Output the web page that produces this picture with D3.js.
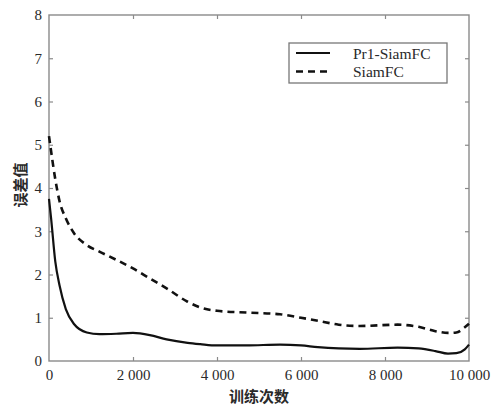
<!DOCTYPE html>
<html>
<head>
<meta charset="utf-8">
<script src="https://cdn.jsdelivr.net/npm/d3@7"></script>
<style>
  html, body { margin: 0; padding: 0; background: #fff; }
  svg { display: block; }
</style>
</head>
<body>
<svg id="chart" width="502" height="405"></svg>
<script>
// Training steps and error values of the two trackers
const steps = [0, 50, 150, 250, 400, 600, 900, 1200, 1600, 2000, 2400, 2800, 3300, 3600, 4000,
               4700, 5500, 6000, 6400, 6900, 7400, 8300, 8800, 9200, 9500, 9700, 9900, 10000];
const pr1SiamFC = [3.75, 3.3, 2.3, 1.75, 1.2, 0.85, 0.66, 0.62, 0.63, 0.65, 0.6, 0.5, 0.42, 0.39, 0.36,
                   0.36, 0.38, 0.36, 0.32, 0.29, 0.28, 0.31, 0.29, 0.23, 0.17, 0.18, 0.27, 0.38];
const siamFC = [5.2, 4.85, 4.2, 3.7, 3.3, 2.95, 2.68, 2.53, 2.34, 2.14, 1.91, 1.68, 1.37, 1.24, 1.16,
                1.12, 1.08, 1.0, 0.93, 0.84, 0.81, 0.84, 0.79, 0.69, 0.65, 0.66, 0.78, 0.86];
const xTicks = [0, 2000, 4000, 6000, 8000, 10000];
const yTicks = [0, 1, 2, 3, 4, 5, 6, 7, 8];
const seriesNames = ["Pr1-SiamFC", "SiamFC"];
const xTitle = "训练次数";
const yTitle = "误差值";

const svg = d3.select("#chart");
const plot = { left: 49, right: 469, top: 15, bottom: 361 };
const axisColor = "#8a8a8a";
const textColor = "#2a2a2a";
const serif = "'Liberation Serif', 'DejaVu Serif', serif";
const cjk = "'Noto Sans CJK SC', sans-serif";

const x = d3.scaleLinear().domain([0, 10000]).range([plot.left, plot.right]);
const y = d3.scaleLinear().domain([0, 8]).range([plot.bottom, plot.top]);

// thousands grouped with a space, e.g. "2 000"
const fmt = d => d === 0 ? "0" : d3.format(",")(d).replace(/,/g, " ");

function styleAxis(g, showLabels) {
  g.attr("font-family", serif).attr("font-size", 15);
  g.select(".domain").remove();
  g.selectAll(".tick line").attr("stroke", axisColor).attr("stroke-width", 1.2);
  g.selectAll(".tick text")
    .attr("fill", textColor)
    .attr("display", showLabels ? null : "none");
}

// bottom / left axes with labels, inward ticks
svg.append("g")
  .attr("transform", `translate(0,${plot.bottom})`)
  .call(d3.axisBottom(x).tickValues(xTicks).tickFormat(fmt).tickSizeInner(-4).tickSizeOuter(0).tickPadding(8))
  .call(g => styleAxis(g, true))
  .call(g => g.selectAll(".tick").filter(d => d === 0 || d === 10000).select("line").remove());

svg.append("g")
  .attr("transform", `translate(${plot.left},0)`)
  .call(d3.axisLeft(y).tickValues(yTicks).tickSizeInner(-4).tickSizeOuter(0).tickPadding(7))
  .call(g => styleAxis(g, true))
  .call(g => g.selectAll(".tick").filter(d => d === 0 || d === 8).select("line").remove());

// mirrored top / right ticks
svg.append("g")
  .attr("transform", `translate(0,${plot.top})`)
  .call(d3.axisTop(x).tickValues(xTicks.slice(1, -1)).tickSizeInner(-4).tickSizeOuter(0))
  .call(g => styleAxis(g, false));

svg.append("g")
  .attr("transform", `translate(${plot.right},0)`)
  .call(d3.axisRight(y).tickValues(yTicks.slice(1, -1)).tickSizeInner(-4).tickSizeOuter(0))
  .call(g => styleAxis(g, false));

// plot frame
svg.append("rect")
  .attr("x", plot.left).attr("y", plot.top)
  .attr("width", plot.right - plot.left).attr("height", plot.bottom - plot.top)
  .attr("fill", "none").attr("stroke", axisColor).attr("stroke-width", 1.4);

// curves
const line = d3.line().x((d, i) => x(steps[i])).y(d => y(d)).curve(d3.curveMonotoneX);

svg.append("path")
  .datum(siamFC)
  .attr("d", line)
  .attr("fill", "none")
  .attr("stroke", "#111")
  .attr("stroke-width", 2.6)
  .attr("stroke-dasharray", "7,5");

svg.append("path")
  .datum(pr1SiamFC)
  .attr("d", line)
  .attr("fill", "none")
  .attr("stroke", "#111")
  .attr("stroke-width", 2.2);

// legend
const legend = svg.append("g");
legend.append("rect")
  .attr("x", 289).attr("y", 43).attr("width", 158).attr("height", 40)
  .attr("fill", "#fff").attr("stroke", "#777").attr("stroke-width", 1.3);

const dashes = [null, "7,5"];
const widths = [2.2, 2.6];
seriesNames.forEach((name, i) => {
  const yy = 53 + i * 18.5;
  legend.append("line")
    .attr("x1", 296).attr("x2", 330).attr("y1", yy).attr("y2", yy)
    .attr("stroke", "#111").attr("stroke-width", widths[i])
    .attr("stroke-dasharray", dashes[i]);
  legend.append("text")
    .attr("x", 353).attr("y", yy + 5.5)
    .attr("fill", textColor)
    .style("font-family", serif)
    .style("font-size", "15.5px")
    .text(name);
});

// axis titles
svg.append("text")
  .attr("x", 259).attr("y", 402)
  .attr("text-anchor", "middle")
  .attr("fill", textColor)
  .style("font-family", cjk)
  .style("font-weight", "bold")
  .style("font-size", "15px")
  .text(xTitle);

svg.append("text")
  .attr("transform", "translate(26,185) rotate(-90)")
  .attr("text-anchor", "middle")
  .attr("fill", textColor)
  .style("font-family", cjk)
  .style("font-weight", "bold")
  .style("font-size", "15px")
  .text(yTitle);
</script>
</body>
</html>
